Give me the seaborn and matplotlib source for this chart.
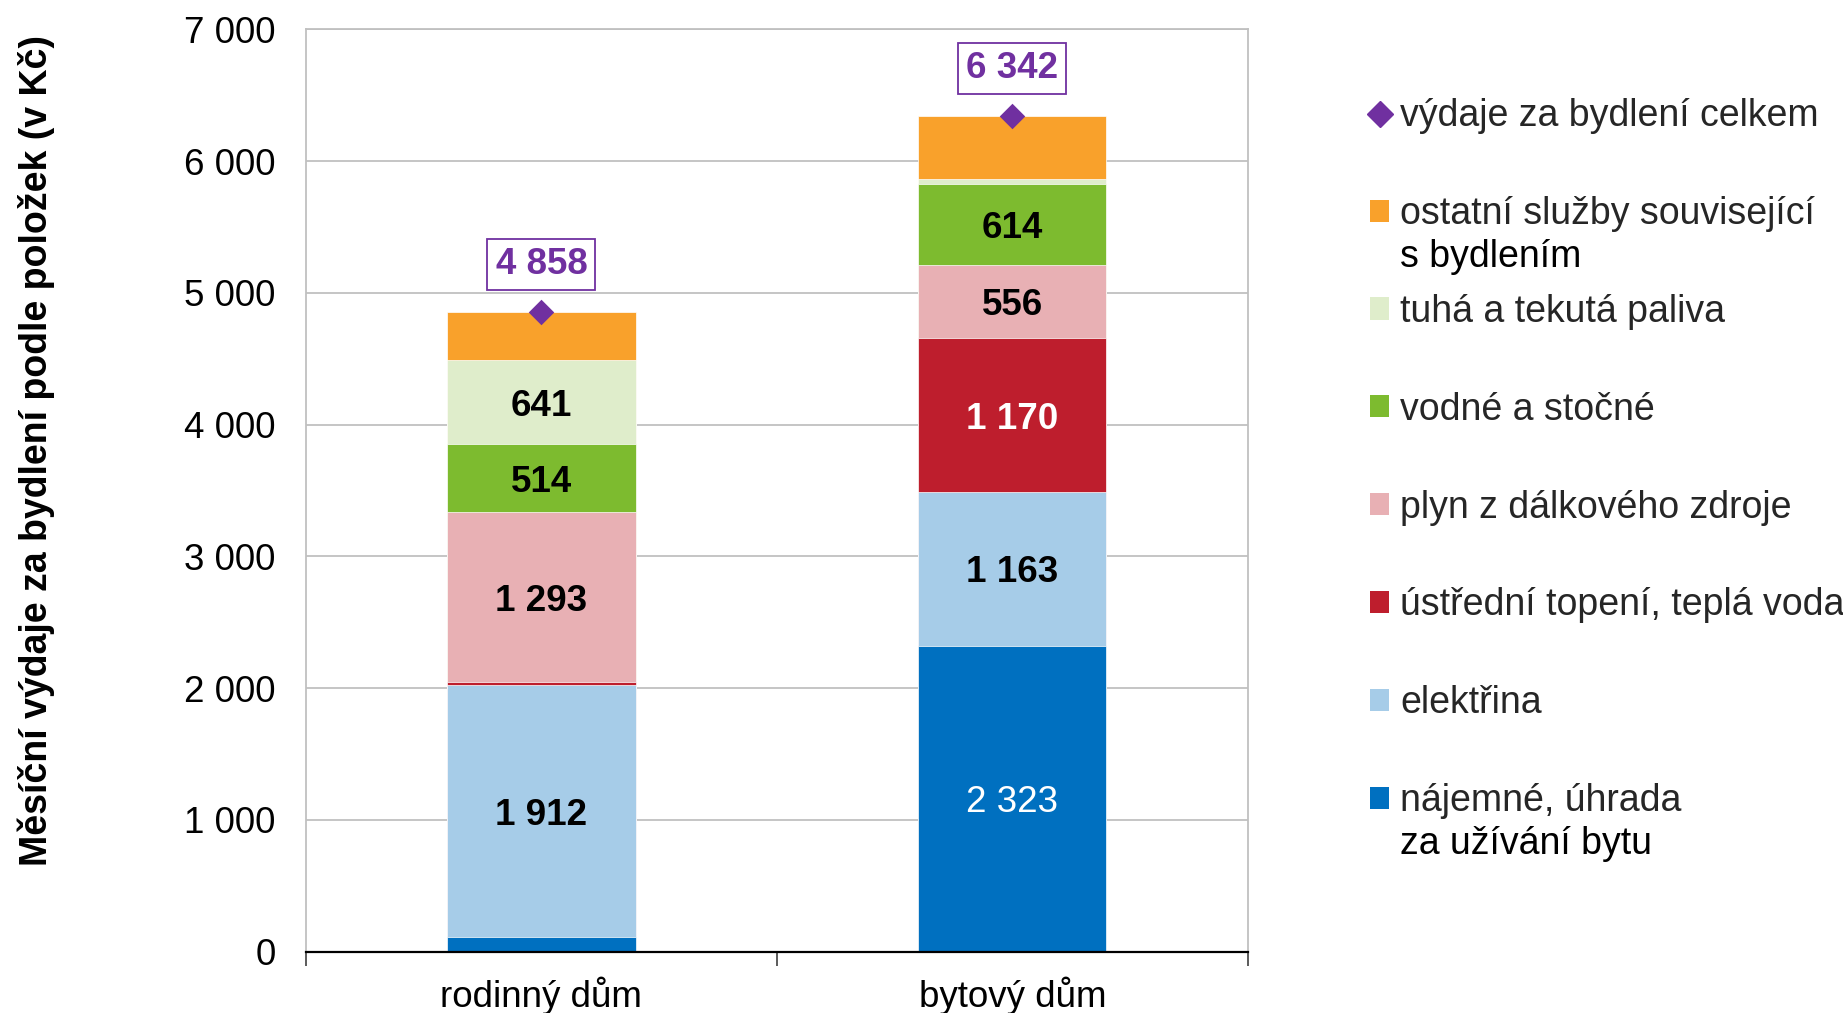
"""Měsíční výdaje za bydlení podle položek – rodinný vs. bytový dům"""

import matplotlib

matplotlib.use("Agg")
import matplotlib.pyplot as plt
import numpy as np
import seaborn as sns
from matplotlib.lines import Line2D
from matplotlib.patches import Patch
from matplotlib.ticker import FixedLocator, FuncFormatter

# %% Data

categories = ["rodinný dům", "bytový dům"]

# položky zdola nahoru
najemne = [110, 2323]
elektrina = [1912, 1163]
ustredni = [22, 1170]
plyn = [1293, 556]
vodne = [514, 614]
tuha = [641, 35]
ostatni = [366, 481]
celkem = [4858, 6342]

series_names = [
    "nájemné, úhrada\nza užívání bytu",
    "elektřina",
    "ústřední topení, teplá voda",
    "plyn z dálkového zdroje",
    "vodné a stočné",
    "tuhá a tekutá paliva",
    "ostatní služby související\ns bydlením",
]
series_values = [najemne, elektrina, ustredni, plyn, vodne, tuha, ostatni]
total_name = "výdaje za bydlení celkem"

# které segmenty mají popisek: (řada, kategorie, barva, tučně)
segment_labels = [
    (0, 1, "white", False),
    (1, 0, "black", True),
    (1, 1, "black", True),
    (2, 1, "white", True),
    (3, 0, "black", True),
    (3, 1, "black", True),
    (4, 0, "black", True),
    (4, 1, "black", True),
    (5, 0, "black", True),
]

colors = ["#0070C0", "#A6CCE8", "#BE1E2D", "#E8B0B4", "#7DBB2F", "#DFEDCB", "#F9A12B"]
purple = "#7030A0"
FS = 26.5
LEG_FS = 27


def fmt(v):
    return f"{int(round(v)):,}".replace(",", " ")


# %% Plot

sns.set_theme(style="white")
plt.rcParams["font.family"] = ["Liberation Sans", "DejaVu Sans"]

fig, ax = plt.subplots(figsize=(18.43, 10.13), dpi=100)
fig.subplots_adjust(left=0.166, right=0.677, bottom=0.0606, top=0.971)

values = np.array(series_values, dtype=float)
stack = np.cumsum(values, axis=0)

# skládané sloupce: kumulativní součty od nejvyššího po nejnižší
for i in reversed(range(len(series_values))):
    sns.barplot(
        x=categories,
        y=stack[i],
        color=colors[i],
        saturation=1,
        width=0.4,
        edgecolor="white",
        linewidth=0.5,
        ax=ax,
        zorder=2,
    )

sns.stripplot(
    x=categories,
    y=celkem,
    jitter=False,
    marker="D",
    size=13,
    color=purple,
    linewidth=0,
    ax=ax,
    zorder=4,
)

for s, c, col, bold in segment_labels:
    bottom = stack[s][c] - values[s][c]
    ax.text(
        c,
        bottom + values[s][c] / 2,
        fmt(values[s][c]),
        ha="center",
        va="center_baseline",
        color=col,
        fontsize=FS,
        fontweight="bold" if bold else "normal",
        zorder=5,
    )

for c, v in enumerate(celkem):
    ax.annotate(
        fmt(v),
        xy=(c, v),
        xytext=(0, 34),
        textcoords="offset points",
        ha="center",
        va="center",
        color=purple,
        fontsize=FS,
        fontweight="bold",
        bbox=dict(boxstyle="square,pad=0.22", fc="white", ec=purple, lw=1.3),
        zorder=6,
    )

ax.set_xlim(-0.5, 1.5)
ax.set_ylim(0, 7000)
ax.set_yticks(range(0, 7001, 1000))
ax.yaxis.set_major_formatter(FuncFormatter(lambda v, p: fmt(v)))
ax.set_axisbelow(True)
ax.yaxis.grid(True, color="#C0C0C0", lw=1.3)
ax.xaxis.grid(False)
ax.xaxis.set_minor_locator(FixedLocator([-0.5, 0.5, 1.5]))
ax.tick_params(axis="x", which="major", length=0, pad=18, labelsize=FS, labelcolor="black")
ax.tick_params(axis="x", which="minor", bottom=True, length=10, width=1.2, color="#404040")
ax.tick_params(axis="y", length=0, pad=22, labelsize=FS, labelcolor="black")
for side in ["left", "top", "right"]:
    ax.spines[side].set_color("#C0C0C0")
    ax.spines[side].set_linewidth(1.3)
ax.spines["bottom"].set_color("black")
ax.spines["bottom"].set_linewidth(1.6)

ax.set_xlabel("")
ax.set_ylabel(
    "Měsíční výdaje za bydlení podle položek (v Kč)",
    fontsize=27,
    fontweight="bold",
    family=["Liberation Sans Narrow", "Liberation Sans", "DejaVu Sans"],
    color="black",
)
ax.yaxis.set_label_coords(-0.266, 0.543)

# legenda: jen první řádek, další řádky se dopíší pod něj
handles = [Line2D([], [], marker="D", ls="none", color=purple, markersize=13)]
labels = [total_name]
for i in reversed(range(len(series_values))):
    handles.append(Patch(facecolor=colors[i], edgecolor="none"))
    labels.append(series_names[i])
first_lines = [lab.split("\n")[0] for lab in labels]

leg = fig.legend(
    handles,
    first_lines,
    loc="upper left",
    bbox_to_anchor=(0.735, 0.918),
    frameon=False,
    fontsize=LEG_FS,
    labelspacing=1.65,
    handlelength=0.53,
    handleheight=0.53,
    handletextpad=0.28,
    borderaxespad=0,
)

fig.canvas.draw()
inv = fig.transFigure.inverted()
line_step = 1.15 * LEG_FS * fig.dpi / 72
for txt, lab in zip(leg.get_texts(), labels):
    extra = lab.split("\n")[1:]
    bb = txt.get_window_extent()
    for k, line in enumerate(extra, start=1):
        x, y = inv.transform((bb.x0, bb.y0 - k * line_step))
        fig.text(x, y, line, ha="left", va="bottom", fontsize=LEG_FS, color="black")

fig.savefig("out.png", dpi=100)
